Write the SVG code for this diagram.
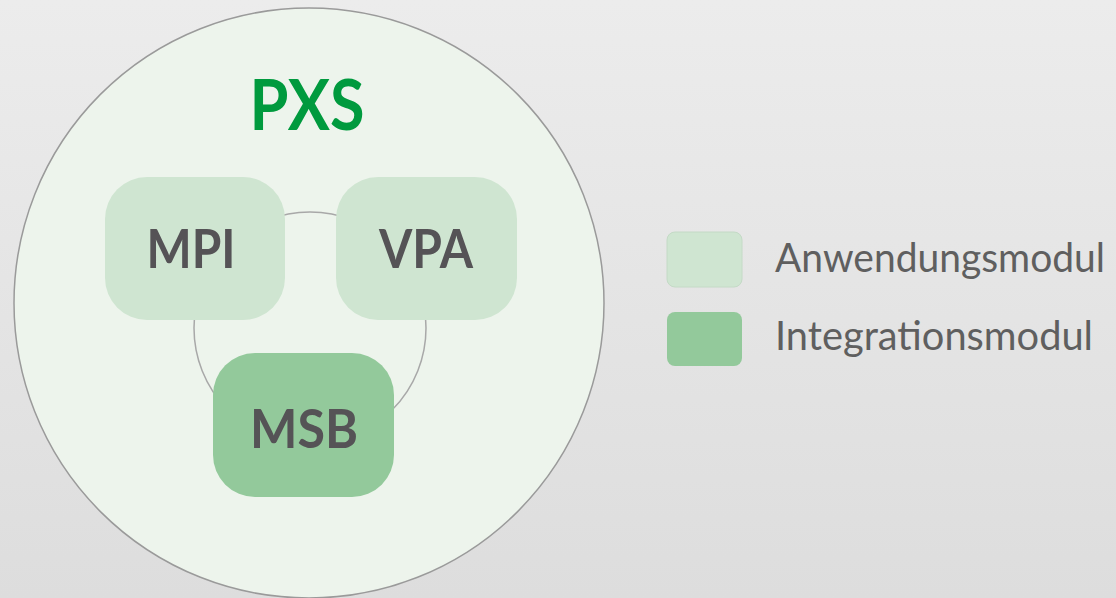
<svg xmlns="http://www.w3.org/2000/svg" width="1116" height="598" viewBox="0 0 1116 598">
  <defs>
    <linearGradient id="bg" x1="0" y1="0" x2="0" y2="1">
      <stop offset="0" stop-color="#ececec"/>
      <stop offset="1" stop-color="#dddddd"/>
    </linearGradient>
  </defs>
  <style>
    .app { fill: #cfe5d1; }
    .int { fill: #93c99b; }
    .lbl { font-family: Lato, "Open Sans", sans-serif; font-weight: bold; font-size: 54px; fill: #555356; text-anchor: middle; }
    .leg { font-family: Lato, "Open Sans", sans-serif; font-size: 40px; fill: #5f5f5f; }
    .conn { fill: none; stroke: #a8a8a8; stroke-width: 1.5; }
  </style>
  <rect x="0" y="0" width="1116" height="598" fill="url(#bg)"/>
  <g id="pxs">
    <circle cx="309" cy="303" r="295" fill="#edf4ec" stroke="#9a9a9a" stroke-width="1.5"/>
    <text x="307" y="130" font-family="Lato, 'Open Sans', sans-serif" font-weight="bold" font-size="71" fill="#009a3e" text-anchor="middle" textLength="115" lengthAdjust="spacingAndGlyphs">PXS</text>
  </g>
  <g id="connectors">
    <circle class="conn" cx="310" cy="328" r="116"/>
  </g>
  <g id="mpi">
    <rect class="app" x="105" y="177" width="180" height="143" rx="42" ry="42"/>
    <text class="lbl" x="191" y="268" textLength="89" lengthAdjust="spacingAndGlyphs">MPI</text>
  </g>
  <g id="vpa">
    <rect class="app" x="336" y="177" width="181" height="143" rx="42" ry="42"/>
    <text class="lbl" x="426" y="268" textLength="94" lengthAdjust="spacingAndGlyphs">VPA</text>
  </g>
  <g id="msb">
    <rect class="int" x="213" y="353" width="181" height="144" rx="42" ry="42"/>
    <text class="lbl" x="304" y="448" textLength="108" lengthAdjust="spacingAndGlyphs">MSB</text>
  </g>
  <g id="legend-app">
    <rect class="app" x="667" y="232" width="75" height="55" rx="8" ry="8" stroke="#c4dac6" stroke-width="1"/>
    <text class="leg" x="775" y="272" textLength="330" lengthAdjust="spacingAndGlyphs">Anwendungsmodul</text>
  </g>
  <g id="legend-int">
    <rect class="int" x="667" y="312" width="75" height="54" rx="8" ry="8"/>
    <text class="leg" x="775" y="350" textLength="318" lengthAdjust="spacingAndGlyphs">Integrationsmodul</text>
  </g>
</svg>
